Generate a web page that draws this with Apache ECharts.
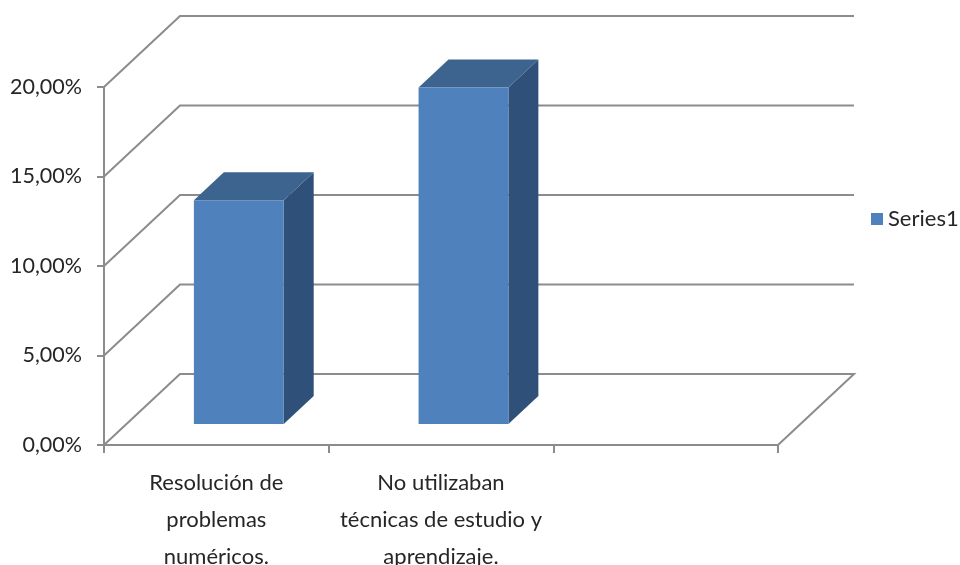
<!DOCTYPE html>
<html>
<head>
<meta charset="utf-8">
<style>html,body{margin:0;padding:0;background:#fff}#c{width:960px;height:565px}</style>
<script src="https://cdn.jsdelivr.net/npm/echarts@6/dist/echarts.min.js"></script>
</head>
<body>
<div id="c"></div>
<script>
var categories = ['Resolución de\nproblemas\nnuméricos.', 'No utilizaban\ntécnicas de estudio y\naprendizaje.', ''];
var seriesName = 'Series1';
var values = [0.125, 0.188];
var gridValues = [0, 0.05, 0.1, 0.15, 0.2];

var FONT = 'Lato,"Open Sans",sans-serif';
var WALL_DX = 76, WALL_DY = -71;
var BAR_D0 = 0.296, BAR_D1 = 0.69, BAR_WIDTH = 0.4;
var LINE = '#8c8c8c';
var TEXT = '#262626';

function wallItem(params, api) {
  var v = api.value(0);
  var band = api.size([1, 0])[0];
  var p = api.coord([0, v]);
  var x0 = p[0] - band / 2, y = p[1];
  var x1 = x0 + band * categories.length;
  var pts = [[x0, y], [x0 + WALL_DX, y + WALL_DY], [x1 + WALL_DX, y + WALL_DY]];
  if (v === 0) pts.push([x1, y]);
  return {
    type: 'polyline',
    shape: { points: pts },
    style: { stroke: LINE, lineWidth: 2, fill: null }
  };
}

function barItem(params, api) {
  var cat = api.value(0), val = api.value(1);
  var band = api.size([1, 0])[0];
  var base = api.coord([cat, 0]);
  var top = api.coord([cat, val]);
  var w = band * BAR_WIDTH;
  var xl = base[0] - w / 2 + WALL_DX * BAR_D0;
  var xr = xl + w;
  var yb = base[1] + WALL_DY * BAR_D0;
  var yt = top[1] + WALL_DY * BAR_D0;
  var dx = WALL_DX * (BAR_D1 - BAR_D0), dy = WALL_DY * (BAR_D1 - BAR_D0);
  return {
    type: 'group',
    children: [
      { type: 'polygon', shape: { points: [[xr, yb], [xr + dx, yb + dy], [xr + dx, yt + dy], [xr, yt]] },
        style: { fill: '#2f5179' } },
      { type: 'polygon', shape: { points: [[xl, yt], [xr, yt], [xr + dx, yt + dy], [xl + dx, yt + dy]] },
        style: { fill: '#3c648f' } },
      { type: 'rect', shape: { x: xl, y: yt, width: w, height: yb - yt },
        style: { fill: '#4f81bd' } }
    ]
  };
}

var chart = echarts.init(document.getElementById('c'), null, { renderer: 'canvas' });
chart.setOption({
  animation: false,
  backgroundColor: '#fff',
  grid: { left: 104, right: 182, top: 87, bottom: 120, containLabel: false, outerBoundsMode: 'none' },
  legend: {
    data: [seriesName], left: 871, top: 208, icon: 'rect',
    itemWidth: 12, itemHeight: 12, itemGap: 0, padding: 0,
    textStyle: { fontFamily: FONT, fontSize: 22, color: TEXT, padding: [0, 0, 0, 0] }
  },
  xAxis: {
    type: 'category', data: categories,
    axisLine: { lineStyle: { color: LINE, width: 2 } },
    axisTick: { show: true, alignWithLabel: false, length: 8, lineStyle: { color: LINE, width: 2 } },
    axisLabel: { interval: 0, margin: 19, fontFamily: FONT, fontSize: 22, color: TEXT, lineHeight: 37 }
  },
  yAxis: {
    type: 'value', min: 0, max: 0.2, interval: 0.05,
    splitLine: { show: false },
    axisLine: { show: true, lineStyle: { color: LINE, width: 2 } },
    axisTick: { show: true, length: 7, lineStyle: { color: LINE, width: 2 } },
    axisLabel: {
      margin: 22, fontFamily: FONT, fontSize: 21.5, color: TEXT,
      formatter: function (v) { return (v * 100).toFixed(2).replace('.', ',') + '%'; }
    }
  },
  series: [
    { type: 'custom', name: 'walls', z: 1, silent: true, renderItem: wallItem,
      encode: { y: 0 }, data: gridValues.map(function (v) { return [v]; }) },
    { type: 'custom', name: seriesName, z: 2, renderItem: barItem,
      itemStyle: { color: '#4f81bd' },
      encode: { x: 0, y: 1 },
      data: values.map(function (v, i) { return [i, v]; }) }
  ]
});
</script>
</body>
</html>
